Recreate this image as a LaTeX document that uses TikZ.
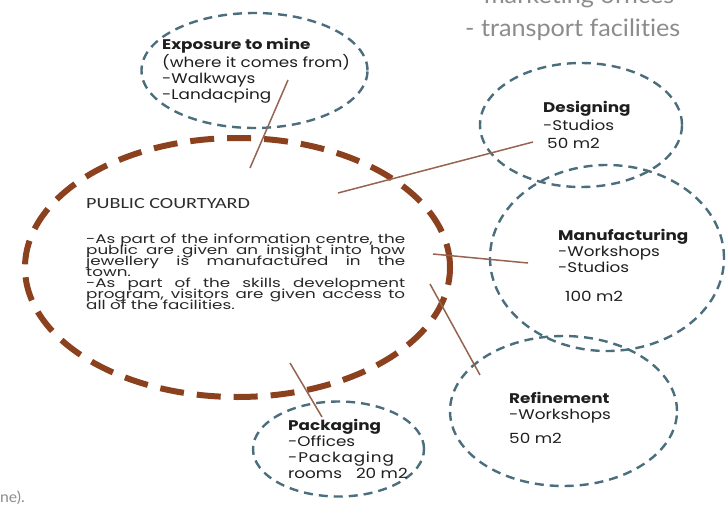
\documentclass[tikz,border=0pt]{standalone}
\usepackage{fontspec}
\setmainfont{Poppins}[FakeStretch=1.2]
\newfontfamily\bodyfont{Poppins}[FakeStretch=1.34]
\newfontfamily\capfont{Carlito}[FakeStretch=1.3]
\newfontfamily\thinfont{Lato}[FakeStretch=1.05,Ligatures=NoCommon]
\usetikzlibrary{shapes.geometric}
\definecolor{bluedash}{RGB}{75,110,125}
\definecolor{browndash}{RGB}{140,65,30}
\definecolor{brownline}{RGB}{150,100,80}
\definecolor{inkc}{RGB}{30,30,30}
\definecolor{grayt}{RGB}{140,140,140}
\tikzset{
  zone/.style={ellipse, draw=bluedash, line width=2.4pt, dash pattern=on 9pt off 6pt, inner sep=0pt},
  court/.style={ellipse, draw=browndash, line width=6pt, dash pattern=on 24pt off 13pt, inner sep=0pt},
  link/.style={draw=brownline, line width=1.5pt},
  lbl/.style={anchor=base west, inner sep=0pt, text=inkc, font=\fontsize{14}{16}\selectfont},
  graytext/.style={anchor=base west, inner sep=0pt, text=grayt},
}
\newcommand\jline[1]{\noindent\makebox[319pt][s]{#1}\par}
\newcommand\pline[1]{\noindent #1\par}
\begin{document}
\begin{tikzpicture}[x=1pt,y=-1pt]
\useasboundingbox (0,0) rectangle (727,508);
\fill[white] (0,0) rectangle (727,508);
\begin{scope}
\clip (0,0) rectangle (727,508);
% zones
\node[zone, minimum width=226pt, minimum height=115pt] (exp) at (254.5,70.5) {};
\node[zone, minimum width=202pt, minimum height=124pt] (des) at (581,125) {};
\node[zone, minimum width=234pt, minimum height=186pt] (man) at (607,258) {};
\node[zone, minimum width=227pt, minimum height=150pt] (ref) at (563.5,411) {};
\node[zone, minimum width=171pt, minimum height=95pt] (pack) at (338.5,449) {};
\node[court, minimum width=425pt, minimum height=259pt] (pub) at (237.5,267.5) {};
% connectors
\coordinate (l1a) at (288,80);  \coordinate (l1b) at (250,168);
\coordinate (l2a) at (533,142); \coordinate (l2b) at (338,193);
\coordinate (l3a) at (433,254); \coordinate (l3b) at (528,263);
\coordinate (l4a) at (430,284); \coordinate (l4b) at (480,375);
\coordinate (l5a) at (290,363); \coordinate (l5b) at (322,417);
\draw[link] (l1a) -- (l1b);
\draw[link] (l2a) -- (l2b);
\draw[link] (l3a) -- (l3b);
\draw[link] (l4a) -- (l4b);
\draw[link] (l5a) -- (l5b);
% labels
\node[lbl] (expt) at (162,50) {\begin{tabular}[t]{@{}l@{}}\bfseries Exposure to mine\\(where it comes from)\\-Walkways\\-Landacping\end{tabular}};
\node[lbl, font=\fontsize{14}{17.7}\selectfont] (dest) at (543,112.7) {\begin{tabular}[t]{@{}l@{}}\bfseries Designing\\-Studios\\\hspace*{4pt}50 m2\end{tabular}};
\node[lbl] (mant) at (558,240.7) {\begin{tabular}[t]{@{}l@{}}\bfseries Manufacturing\\-Workshops\\-Studios\\[13pt]\hspace*{7pt}100 m2\end{tabular}};
\node[lbl] (reft) at (509,403) {\begin{tabular}[t]{@{}l@{}}\bfseries Refinement\\-Workshops\\[8pt]50 m2\end{tabular}};
\node[lbl] (packt) at (288,430.7) {\begin{tabular}[t]{@{}l@{}}\bfseries Packaging\\-Offices\\{\addfontfeature{LetterSpace=6}-Packaging}\\rooms\hspace{14pt}20 m2\end{tabular}};
\node[lbl, font=\capfont\fontsize{15.5}{18}\selectfont, text={rgb,255:red,45;green,45;blue,45}] (pubt) at (86,208) {PUBLIC COURTYARD};
\node[lbl, font=\bodyfont\fontsize{12.5}{11}\selectfont, text={rgb,255:red,40;green,40;blue,40}] (body) at (86,243) {\parbox[t]{319pt}{\lineskiplimit=-30pt\baselineskip=11pt\parskip=0pt
\jline{-As part of the information centre, the}
\jline{public are given an insight into how}
\jline{jewellery is manufactured in the}
\pline{town.}
\jline{-As part of the skills development}
\jline{program, visitors are given access to}
\pline{all of the facilities.}}};
% gray fragments
\node[graytext, font=\thinfont\fontsize{24}{28}\selectfont] (mkt) at (468,4) {- marketing offices};
\node[graytext, font=\thinfont\fontsize{24}{28}\selectfont] (trn) at (465,37) {- transport facilities};
\node[graytext, font=\thinfont\fontsize{15}{18}\selectfont] (nee) at (0,502) {ne).};
\end{scope}
\end{tikzpicture}
\end{document}
